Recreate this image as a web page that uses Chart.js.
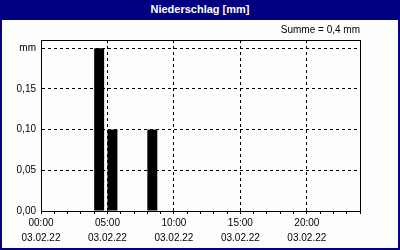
<!DOCTYPE html>
<html lang="de">
<head>
    <meta charset="UTF-8">
    <title>Niederschlag [mm]</title>
    <script src="https://cdnjs.cloudflare.com/ajax/libs/Chart.js/4.4.1/chart.umd.min.js"></script>
    <style>
        body { margin: 0; background: #fff; }
        #frame { position: relative; width: 400px; height: 250px; background: #000080; }
        #head {
            position: absolute; left: 0; top: 0; width: 400px; height: 20px;
            color: #fff; font: bold 11px "Liberation Sans", Arial, sans-serif;
            text-align: center; line-height: 19px;
        }
        #box { position: absolute; left: 2px; top: 20px; width: 396px; height: 228px; background: #fcfefc; }
        canvas { display: block; }
    </style>
</head>
<body>
<div id="frame">
    <div id="head">Niederschlag [mm]</div>
    <div id="box"><canvas id="rainChart" width="396" height="228"></canvas></div>
</div>

<script>
    // Stundenwerte (Beginn der Stunde) und Niederschlag in mm
    const barHours = [4, 5, 8];
    const barValues = [0.2, 0.1, 0.1];

    // Achsenbeschriftung
    const tickHours = [0, 5, 10, 15, 20];
    const tickTimes = ['00:00', '05:00', '10:00', '15:00', '20:00'];
    const tickDate = '03.02.22';
    const yTickValues = [0, 0.05, 0.1, 0.15, 0.2];
    const yTickLabels = ['0,00', '0,05', '0,10', '0,15', 'mm'];

    const BAR_SHARE = 0.75; // Balken füllt die ersten 3/4 der Stunde
    const font = { family: '"Liberation Sans", Arial, sans-serif', size: 10 };

    const total = barValues.reduce((a, b) => a + b, 0);

    // Rahmen um die Zeichenfläche
    const frameBox = {
        id: 'frameBox',
        afterDraw(chart) {
            const { ctx, chartArea: a } = chart;
            ctx.save();
            ctx.strokeStyle = '#000';
            ctx.lineWidth = 1;
            ctx.strokeRect(Math.round(a.left) + 0.5, Math.round(a.top) + 0.5,
                Math.round(a.right - a.left), Math.round(a.bottom - a.top));
            ctx.restore();
        }
    };

    new Chart(document.getElementById('rainChart'), {
        type: 'bar',
        data: {
            datasets: [{
                data: barHours.map((h, i) => ({ x: h + BAR_SHARE / 2, y: barValues[i] })),
                backgroundColor: '#000',
                borderWidth: 0,
                barPercentage: 1,
                categoryPercentage: BAR_SHARE
            }]
        },
        options: {
            responsive: false,
            animation: false,
            layout: { padding: { left: 0, right: 38, top: 0, bottom: 0 } },
            plugins: {
                legend: { display: false },
                tooltip: { enabled: false },
                subtitle: {
                    display: true,
                    text: 'Summe = ' + total.toFixed(1).replace('.', ',') + ' mm',
                    align: 'end',
                    color: '#000',
                    font: font,
                    padding: { top: 4, bottom: 4 }
                }
            },
            scales: {
                x: {
                    type: 'linear',
                    min: 0,
                    max: 24,
                    offset: false,
                    afterFit: s => { s.height = 37; },
                    border: { color: '#000', dash: [3, 3] },
                    grid: {
                        offset: false,
                        color: c => (c.tick && c.tick.value > 0 && c.tick.value < 24 && tickHours.includes(c.tick.value)) ? '#000' : 'transparent',
                        tickColor: '#000',
                        tickLength: 3
                    },
                    ticks: {
                        stepSize: 1,
                        autoSkip: false,
                        maxRotation: 0,
                        padding: 2,
                        color: '#000',
                        font: { ...font, lineHeight: 1.5 },
                        callback: v => {
                            const i = tickHours.indexOf(v);
                            return i < 0 ? '' : [tickTimes[i], tickDate];
                        }
                    }
                },
                y: {
                    min: 0,
                    max: 0.21,
                    afterFit: s => { s.width = 39; },
                    afterBuildTicks: s => { s.ticks = yTickValues.map(v => ({ value: v })); },
                    border: { color: '#000', dash: [3, 3] },
                    grid: {
                        color: c => (c.tick && c.tick.value > 0) ? '#000' : 'transparent',
                        drawTicks: false
                    },
                    ticks: {
                        padding: 5,
                        color: '#000',
                        font: font,
                        callback: (v, i) => yTickLabels[i]
                    }
                }
            }
        },
        plugins: [frameBox]
    });
</script>
</body>
</html>
